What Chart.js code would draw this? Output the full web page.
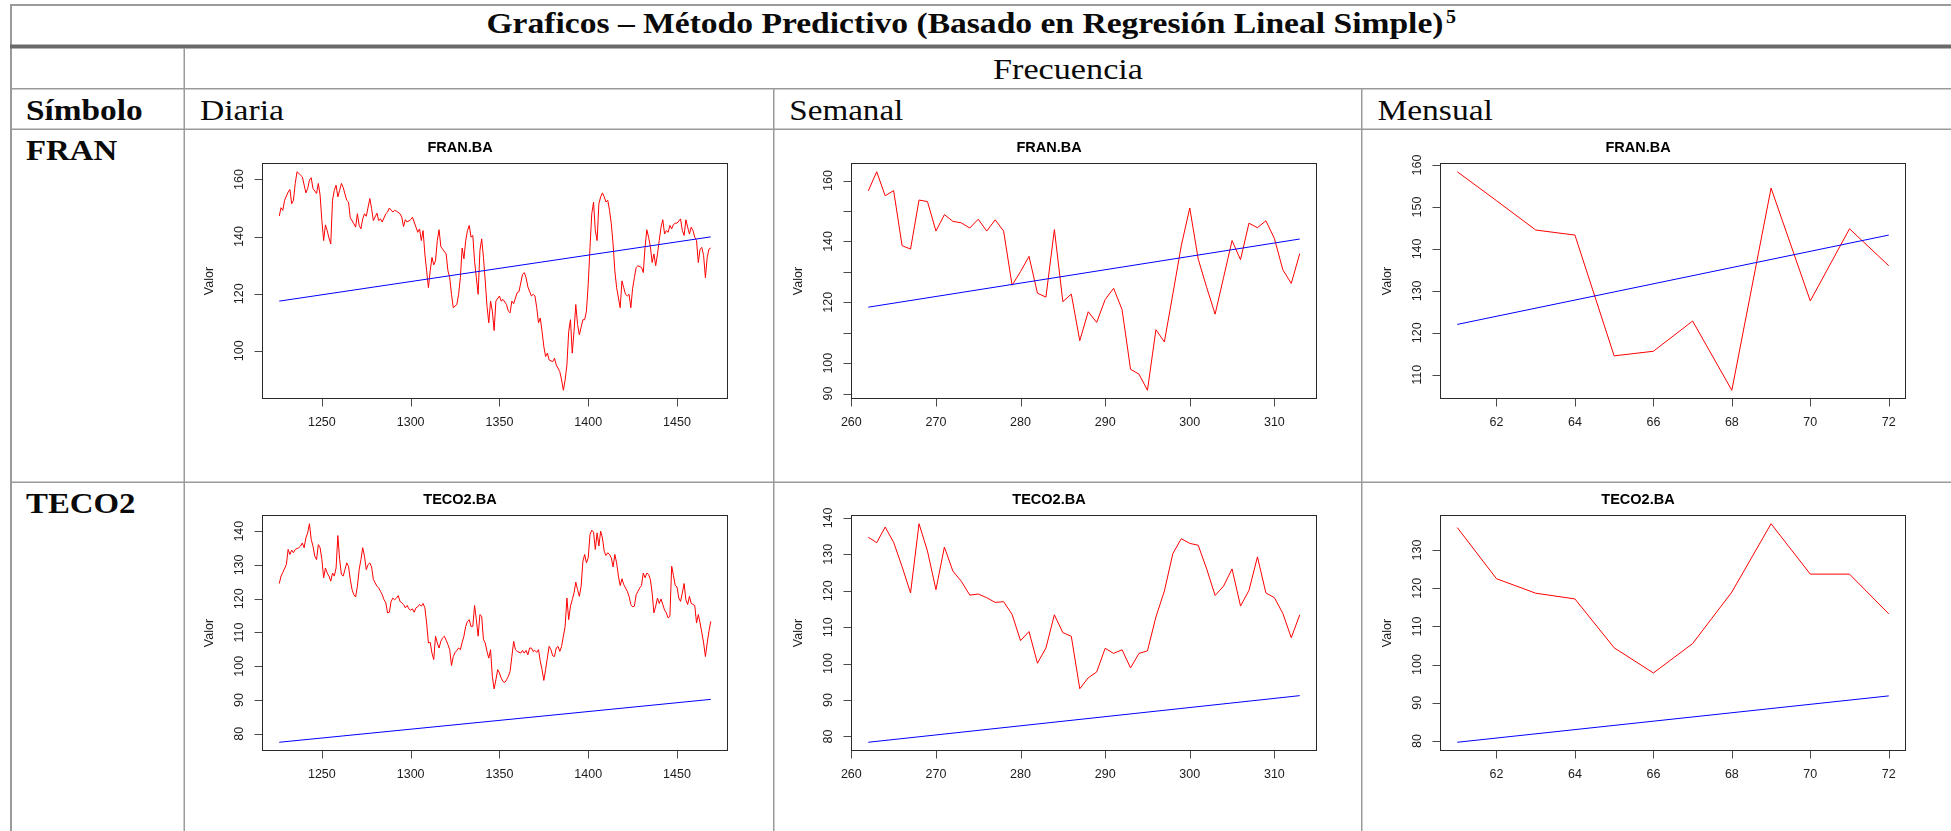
<!DOCTYPE html>
<html lang="es">
<head>
<meta charset="utf-8">
<title>Graficos – Método Predictivo</title>
<script src="https://cdn.jsdelivr.net/npm/chart.js@4.4.1/dist/chart.umd.min.js"></script>
<style>
  html, body { margin: 0; padding: 0; background: #ffffff; }
  #hoja { position: relative; width: 1951px; height: 831px; overflow: hidden; background: #ffffff; }
  #tabla { position: absolute; left: 0; top: 0; }
  #tabla text { fill: #0a0a0a; font-family: "Liberation Serif", "Times New Roman", serif; }
  canvas { position: absolute; }
</style>
</head>
<body>
<div id="hoja">
  <svg id="tabla" width="1951" height="831" xmlns="http://www.w3.org/2000/svg">
    <!-- bordes de la tabla -->
    <rect x="10" y="4" width="1941" height="2" fill="#9a9a9a"/>
    <rect x="10" y="4" width="2" height="827" fill="#9a9a9a"/>
    <rect x="10" y="44.5" width="1941" height="4" fill="#6a6a6a"/>
    <rect x="10" y="88" width="1941" height="1.5" fill="#9a9a9a"/>
    <rect x="10" y="128.5" width="1941" height="1.5" fill="#9a9a9a"/>
    <rect x="10" y="481.5" width="1941" height="1.5" fill="#9a9a9a"/>
    <rect x="183.5" y="48.5" width="1.5" height="783" fill="#9a9a9a"/>
    <rect x="773" y="89" width="1.5" height="742" fill="#9a9a9a"/>
    <rect x="1361" y="89" width="1.5" height="742" fill="#9a9a9a"/>

    <!-- encabezados -->
    <text x="486.5" y="33.3" font-size="30" font-weight="bold" textLength="957" lengthAdjust="spacingAndGlyphs">Graficos – Método Predictivo (Basado en Regresión Lineal Simple)</text>
    <text x="1446" y="23" font-size="18" font-weight="bold" textLength="10" lengthAdjust="spacingAndGlyphs">5</text>
    <text x="993" y="79.3" font-size="28.5" textLength="150" lengthAdjust="spacingAndGlyphs">Frecuencia</text>
    <text x="26" y="119.5" font-size="29" font-weight="bold" textLength="116.7" lengthAdjust="spacingAndGlyphs">Símbolo</text>
    <text x="200" y="119.5" font-size="28.5" textLength="84" lengthAdjust="spacingAndGlyphs">Diaria</text>
    <text x="789.3" y="120" font-size="28.5" textLength="114" lengthAdjust="spacingAndGlyphs">Semanal</text>
    <text x="1377.4" y="120" font-size="28.5" textLength="115.5" lengthAdjust="spacingAndGlyphs">Mensual</text>
    <text x="26" y="160" font-size="29" font-weight="bold" textLength="91.3" lengthAdjust="spacingAndGlyphs">FRAN</text>
    <text x="26" y="513" font-size="29" font-weight="bold" textLength="109.5" lengthAdjust="spacingAndGlyphs">TECO2</text>
  </svg>

  <canvas id="franDiariaCanvas" width="550" height="316" style="left:192px;top:123px;width:550px;height:316px"></canvas>
  <canvas id="franSemanalCanvas" width="550" height="316" style="left:781px;top:123px;width:550px;height:316px"></canvas>
  <canvas id="franMensualCanvas" width="550" height="316" style="left:1370px;top:123px;width:550px;height:316px"></canvas>
  <canvas id="teco2DiariaCanvas" width="550" height="316" style="left:192px;top:475px;width:550px;height:316px"></canvas>
  <canvas id="teco2SemanalCanvas" width="550" height="316" style="left:781px;top:475px;width:550px;height:316px"></canvas>
  <canvas id="teco2MensualCanvas" width="550" height="316" style="left:1370px;top:475px;width:550px;height:316px"></canvas>
</div>

<script>
// ---------- Datos: [período, valor] ----------

// FRAN.BA, frecuencia diaria
const franDiaria = [
  [1226,147.2],[1227,150.1],[1228,149.2],[1229,152.7],[1231,155.6],[1232,156.5],[1233,151.5],[1234,152.7],
  [1235,158.6],[1236,162.7],[1238,161.5],[1239,160.9],[1241,155.3],[1242,156.8],[1243,159.8],[1244,160.6],
  [1245,156.8],[1247,155.1],[1248,158.6],[1249,154.5],[1250,145.6],[1251,138.6],[1252,144.1],[1253,142.1],
  [1254,139.5],[1255,137.4],[1256,152.7],[1257,156.2],[1258,158.0],[1259,153.9],[1260,156.2],[1261,158.6],
  [1262,157.2],[1264,152.7],[1265,152.1],[1266,146.6],[1268,144.5],[1269,143.3],[1270,148.0],[1271,143.9],
  [1272,142.7],[1273,146.2],[1274,148.0],[1275,147.1],[1277,153.3],[1278,149.8],[1279,145.6],[1281,148.2],
  [1282,145.6],[1283,146.2],[1284,145.1],[1286,148.0],[1287,148.6],[1288,150.0],[1290,148.6],[1291,149.2],
  [1292,148.9],[1294,148.0],[1295,146.8],[1296,143.5],[1297,145.9],[1298,145.1],[1300,145.9],[1301,146.8],
  [1303,143.3],[1304,141.5],[1305,142.7],[1306,138.6],[1307,142.1],[1308,133.9],[1309,128.0],[1310,122.1],
  [1311,128.0],[1312,132.7],[1313,130.1],[1314,131.5],[1315,138.6],[1316,142.4],[1317,136.5],[1318,135.6],
  [1320,133.9],[1321,128.0],[1322,125.6],[1323,119.8],[1324,115.1],[1326,116.2],[1327,119.8],[1328,125.6],
  [1329,136.0],[1330,132.2],[1331,138.6],[1332,142.1],[1333,143.9],[1334,139.8],[1335,140.4],[1336,131.3],
  [1337,125.6],[1338,119.8],[1339,135.1],[1340,139.2],[1341,132.7],[1342,124.5],[1343,115.6],[1344,109.8],
  [1345,117.4],[1346,113.9],[1347,107.1],[1348,117.4],[1350,119.2],[1351,117.4],[1352,118.0],[1354,116.2],
  [1355,113.9],[1356,113.3],[1357,117.4],[1358,116.5],[1360,120.4],[1361,120.7],[1363,126.8],[1364,127.4],
  [1365,125.6],[1366,122.4],[1368,119.2],[1369,119.8],[1370,119.2],[1371,115.1],[1372,109.8],[1373,111.5],
  [1374,106.8],[1375,101.5],[1376,98.0],[1377,99.2],[1378,96.8],[1380,96.2],[1381,97.4],[1382,95.1],
  [1384,92.7],[1385,89.8],[1386,86.2],[1387,89.8],[1388,95.1],[1389,106.8],[1390,110.9],[1391,99.2],
  [1392,106.8],[1393,116.2],[1394,109.2],[1395,105.6],[1397,110.9],[1398,110.9],[1399,113.9],[1400,123.3],
  [1401,136.2],[1402,148.0],[1403,152.1],[1404,142.1],[1405,138.6],[1406,151.5],[1407,153.9],[1408,155.3],
  [1409,153.9],[1410,152.1],[1411,152.7],[1412,149.2],[1413,144.5],[1414,137.4],[1415,128.0],[1416,122.1],
  [1418,115.1],[1419,124.5],[1420,122.1],[1421,119.8],[1422,119.2],[1423,119.8],[1424,115.1],[1425,121.9],
  [1426,125.6],[1427,129.2],[1428,129.8],[1430,129.2],[1431,127.4],[1432,136.2],[1433,142.4],[1434,139.8],
  [1435,136.5],[1436,130.9],[1437,133.9],[1438,129.8],[1439,133.9],[1440,138.6],[1441,143.3],[1442,145.9],
  [1443,140.9],[1444,142.1],[1445,141.5],[1446,143.9],[1447,142.7],[1448,144.2],[1449,144.7],[1450,144.7],
  [1452,146.2],[1453,142.1],[1454,140.4],[1455,145.9],[1456,143.3],[1457,140.9],[1458,143.3],[1459,142.1],
  [1460,139.8],[1461,138.6],[1462,130.9],[1463,135.6],[1464,136.2],[1465,133.3],[1466,125.6],[1467,132.7],
  [1468,135.6],[1469,136.0]
];
const franDiariaTendencia = [[1226,117.4],[1469,139.9]];

// FRAN.BA, frecuencia semanal
const franSemanal = [
  [262,156.6],[263,162.9],[264,155.0],[265,156.7],[266,138.6],[267,137.5],[268,153.6],[269,153.1],
  [270,143.4],[271,148.8],[272,146.6],[273,146.1],[274,144.4],[275,147.3],[276,143.4],[277,147.1],
  [278,143.4],[279,125.6],[280,130.1],[281,135.1],[282,123.0],[283,121.7],[284,143.9],[285,120.2],
  [286,122.7],[287,107.4],[288,116.9],[289,113.4],[290,120.9],[291,124.6],[292,117.6],[293,98.0],
  [294,96.4],[295,91.1],[296,111.0],[297,107.0],[298,122.7],[299,138.6],[300,151.0],[301,134.2],
  [302,124.9],[303,116.1],[304,128.2],[305,140.3],[306,134.0],[307,146.0],[308,144.5],[309,146.8],
  [310,141.0],[311,130.7],[312,126.2],[313,136.0]
];
const franSemanalTendencia = [[262,118.4],[313,140.8]];

// FRAN.BA, frecuencia mensual
const franMensual = [
  [61,158.4],[62,151.5],[63,144.5],[64,143.3],[65,114.5],[66,115.6],
  [67,122.8],[68,106.3],[69,154.5],[70,127.6],[71,144.8],[72,136.0]
];
const franMensualTendencia = [[61,122.0],[72,143.3]];

// TECO2.BA, frecuencia diaria
const teco2Diaria = [
  [1226,124.5],[1227,126.7],[1228,127.8],[1230,130.1],[1231,134.6],[1232,133.1],[1233,134.4],[1234,133.6],
  [1235,134.6],[1237,135.1],[1238,135.6],[1239,136.5],[1240,135.1],[1241,138.0],[1242,139.5],[1243,142.2],
  [1244,137.5],[1245,135.6],[1246,132.6],[1247,131.6],[1248,136.0],[1249,135.1],[1250,131.6],[1251,126.2],
  [1252,129.1],[1253,127.6],[1254,126.7],[1255,125.2],[1256,127.6],[1257,126.7],[1258,129.1],[1259,138.7],
  [1260,131.6],[1261,127.2],[1262,126.7],[1263,128.6],[1264,130.6],[1265,129.6],[1266,125.7],[1267,122.7],
  [1268,121.2],[1269,120.5],[1270,123.7],[1271,128.6],[1272,131.6],[1273,135.1],[1274,132.6],[1275,128.6],
  [1276,130.1],[1277,130.6],[1278,129.4],[1279,125.7],[1280,124.7],[1281,123.7],[1282,123.2],[1283,122.2],
  [1284,121.2],[1285,119.7],[1286,118.8],[1287,115.8],[1288,116.0],[1289,119.2],[1290,120.2],[1291,119.7],
  [1292,120.2],[1293,120.9],[1294,119.2],[1295,118.8],[1296,118.3],[1297,117.3],[1298,118.0],[1299,117.0],
  [1300,116.6],[1301,117.0],[1302,116.0],[1303,117.3],[1304,117.6],[1305,118.3],[1306,117.8],[1307,118.6],
  [1308,117.3],[1309,112.8],[1310,106.9],[1311,107.1],[1312,103.9],[1313,102.0],[1314,108.9],[1315,106.9],
  [1316,105.4],[1317,107.4],[1318,108.4],[1319,108.9],[1320,107.7],[1321,106.4],[1322,104.9],[1323,100.2],
  [1324,102.9],[1325,104.0],[1326,104.7],[1327,105.4],[1328,104.9],[1329,107.1],[1330,108.9],[1331,111.8],
  [1332,113.3],[1333,113.8],[1334,111.8],[1335,111.8],[1336,118.0],[1337,113.8],[1338,108.9],[1339,115.3],
  [1340,114.8],[1341,107.9],[1342,106.9],[1343,104.4],[1344,102.4],[1345,104.9],[1346,97.0],[1347,93.3],
  [1348,96.0],[1349,99.0],[1350,98.0],[1351,96.5],[1352,95.5],[1353,95.2],[1354,96.0],[1355,97.0],
  [1356,98.5],[1357,102.9],[1358,107.4],[1359,104.9],[1360,104.4],[1362,103.9],[1363,104.7],[1364,103.9],
  [1365,104.7],[1366,103.4],[1367,105.4],[1368,105.4],[1369,104.4],[1370,104.7],[1371,104.1],[1372,104.9],
  [1373,101.5],[1374,99.0],[1375,95.8],[1376,99.0],[1377,102.5],[1378,105.9],[1379,104.9],[1380,103.1],
  [1381,102.9],[1382,105.4],[1383,105.9],[1384,104.4],[1385,105.9],[1386,108.9],[1387,111.8],[1388,120.2],
  [1389,113.8],[1390,117.8],[1391,119.7],[1392,121.7],[1393,124.9],[1394,122.7],[1395,120.7],[1396,123.7],
  [1397,131.1],[1398,133.1],[1399,130.6],[1400,132.1],[1401,139.0],[1402,140.3],[1403,139.7],[1404,134.6],
  [1405,139.5],[1406,135.6],[1407,140.0],[1408,138.0],[1409,134.1],[1410,132.8],[1411,133.6],[1412,133.1],
  [1413,132.1],[1414,129.4],[1415,133.1],[1416,130.6],[1417,126.7],[1418,123.9],[1419,125.9],[1420,124.2],
  [1421,123.2],[1422,122.2],[1423,120.7],[1424,118.3],[1425,117.6],[1426,117.8],[1427,121.2],[1428,122.2],
  [1429,123.2],[1430,123.9],[1431,127.6],[1432,126.2],[1433,127.6],[1434,127.2],[1435,125.7],[1436,121.7],
  [1437,115.8],[1438,117.8],[1439,120.2],[1440,118.6],[1441,119.9],[1442,118.3],[1443,116.6],[1444,115.8],
  [1445,114.3],[1446,114.8],[1447,129.6],[1448,126.9],[1449,123.9],[1450,123.5],[1451,120.2],[1452,119.2],
  [1453,121.7],[1454,124.5],[1455,119.7],[1456,118.3],[1457,120.7],[1458,118.6],[1459,118.3],[1460,118.0],
  [1461,112.8],[1462,115.3],[1463,112.8],[1464,109.9],[1465,106.9],[1466,102.9],[1467,106.9],[1468,110.4],
  [1469,113.3]
];
const teco2DiariaTendencia = [[1226,77.5],[1469,90.2]];

// TECO2.BA, frecuencia semanal
const teco2Semanal = [
  [262,134.7],[263,133.2],[264,137.5],[265,133.3],[266,126.6],[267,119.4],[268,138.4],[269,130.9],
  [270,120.3],[271,132.0],[272,125.4],[273,122.6],[274,118.8],[275,119.1],[276,118.1],[277,116.8],
  [278,117.0],[279,113.5],[280,106.3],[281,108.8],[282,100.1],[283,104.3],[284,113.4],[285,108.5],
  [286,107.5],[287,93.1],[288,96.1],[289,97.7],[290,104.2],[291,102.8],[292,103.8],[293,98.8],
  [294,102.8],[295,103.5],[296,112.8],[297,119.9],[298,130.2],[299,134.3],[300,133.0],[301,132.5],
  [302,126.0],[303,118.7],[304,121.3],[305,126.0],[306,115.8],[307,120.1],[308,129.3],[309,119.4],
  [310,118.1],[311,113.8],[312,107.1],[313,113.4]
];
const teco2SemanalTendencia = [[262,78.4],[313,91.2]];

// TECO2.BA, frecuencia mensual
const teco2Mensual = [
  [61,135.9],[62,122.5],[63,118.7],[64,117.2],[65,104.4],[66,97.8],
  [67,105.5],[68,119.0],[69,136.9],[70,123.7],[71,123.7],[72,113.3]
];
const teco2MensualTendencia = [[61,79.65],[72,91.8]];

// ---------- Marcas de los ejes ----------
const ticksXDiaria = [1250, 1300, 1350, 1400, 1450];
const ticksXSemanal = [260, 270, 280, 290, 300, 310];
const ticksXMensual = [62, 64, 66, 68, 70, 72];

const ticksYFranDiaria = [100, 120, 140, 160];
const ticksYFranSemanal = [90, 100, 110, 120, 130, 140, 150, 160];
const etiquetasYFranSemanal = [90, 100, 120, 140, 160];
const ticksYFranMensual = [110, 120, 130, 140, 150, 160];
const ticksYTeco2Diaria = [80, 90, 100, 110, 120, 130, 140];
const ticksYTeco2Semanal = [80, 90, 100, 110, 120, 130, 140];
const ticksYTeco2Mensual = [80, 90, 100, 110, 120, 130];

const tituloEjeY = 'Valor';

// ---------- Dibujo ----------
const FUENTE = '"Liberation Sans", Arial, Helvetica, sans-serif';
const ANCHO_EJE_Y = 70;
const ALTO_EJE_X = 40;

// Rango con la expansión del 4 % a cada lado (estilo de R)
function rango(valores) {
  const lo = Math.min(...valores), hi = Math.max(...valores);
  const d = (hi - lo) * 0.04;
  return [lo - d, hi + d];
}

// Marco, marcas y rótulos de ejes al modo de los gráficos base de R
const ejesEstiloR = {
  id: 'ejesEstiloR',
  afterDraw(chart, args, opts) {
    const { ctx, chartArea: a } = chart;
    const xs = chart.scales.x, ys = chart.scales.y;
    ctx.save();

    ctx.lineWidth = 1;
    ctx.strokeStyle = '#2a2a2a';
    ctx.strokeRect(a.left + 0.5, a.top + 0.5, a.width - 1, a.height - 1);

    ctx.strokeStyle = '#4a4a4a';
    xs.ticks.forEach(t => {
      const px = Math.round(xs.getPixelForValue(t.value)) + 0.5;
      ctx.beginPath(); ctx.moveTo(px, a.bottom); ctx.lineTo(px, a.bottom + 7.5); ctx.stroke();
    });
    ys.ticks.forEach(t => {
      const py = Math.round(ys.getPixelForValue(t.value)) + 0.5;
      ctx.beginPath(); ctx.moveTo(a.left - 7.5, py); ctx.lineTo(a.left, py); ctx.stroke();
    });

    ctx.fillStyle = '#1c1c1c';
    ctx.font = '12.5px ' + FUENTE;
    ctx.textAlign = 'center';
    ctx.textBaseline = 'middle';
    xs.ticks.forEach(t => {
      ctx.fillText(String(t.value), xs.getPixelForValue(t.value), a.bottom + 23.4);
    });
    const visibles = opts.etiquetasY || ys.ticks.map(t => t.value);
    ys.ticks.forEach(t => {
      if (!visibles.includes(t.value)) return;
      ctx.save();
      ctx.translate(a.left - 22.5, ys.getPixelForValue(t.value));
      ctx.rotate(-Math.PI / 2);
      ctx.fillText(String(t.value), 0, 0);
      ctx.restore();
    });

    ctx.save();
    ctx.translate(a.left - 52.3, (a.top + a.bottom) / 2);
    ctx.rotate(-Math.PI / 2);
    ctx.fillText(opts.tituloY, 0, 0);
    ctx.restore();

    ctx.restore();
  }
};

function crearGrafico(idCanvas, titulo, serie, tendencia, ticksX, ticksY, etiquetasY) {
  const [xMin, xMax] = rango(serie.map(p => p[0]));
  const [yMin, yMax] = rango(serie.map(p => p[1]).concat(tendencia.map(p => p[1])));
  const aPuntos = arr => arr.map(([x, y]) => ({ x, y }));

  return new Chart(document.getElementById(idCanvas), {
    type: 'line',
    data: {
      datasets: [
        { label: 'Tendencia', data: aPuntos(tendencia), borderColor: '#0000ff', borderWidth: 1,
          pointRadius: 0, tension: 0, order: 0 },
        { label: titulo, data: aPuntos(serie), borderColor: '#ff0000', borderWidth: 1,
          pointRadius: 0, tension: 0, order: 1 }
      ]
    },
    options: {
      responsive: false,
      animation: false,
      devicePixelRatio: 1,
      events: [],
      layout: { padding: { left: 0, right: 14, top: 0, bottom: 0 } },
      plugins: {
        legend: { display: false },
        tooltip: { enabled: false },
        title: {
          display: true,
          text: titulo,
          color: '#000000',
          font: { family: FUENTE, size: 14.5, weight: 'bold' },
          padding: { top: 15.9, bottom: 6.7 }
        },
        ejesEstiloR: { etiquetasY: etiquetasY, tituloY: tituloEjeY }
      },
      scales: {
        x: {
          type: 'linear', min: xMin, max: xMax,
          afterBuildTicks: s => { s.ticks = ticksX.map(v => ({ value: v })); },
          afterFit: s => { s.height = ALTO_EJE_X; },
          ticks: { display: false },
          grid: { display: false },
          border: { display: false }
        },
        y: {
          type: 'linear', min: yMin, max: yMax,
          afterBuildTicks: s => { s.ticks = ticksY.map(v => ({ value: v })); },
          afterFit: s => { s.width = ANCHO_EJE_Y; },
          ticks: { display: false },
          grid: { display: false },
          border: { display: false }
        }
      }
    },
    plugins: [ejesEstiloR]
  });
}

crearGrafico('franDiariaCanvas', 'FRAN.BA', franDiaria, franDiariaTendencia, ticksXDiaria, ticksYFranDiaria);
crearGrafico('franSemanalCanvas', 'FRAN.BA', franSemanal, franSemanalTendencia, ticksXSemanal, ticksYFranSemanal, etiquetasYFranSemanal);
crearGrafico('franMensualCanvas', 'FRAN.BA', franMensual, franMensualTendencia, ticksXMensual, ticksYFranMensual);
crearGrafico('teco2DiariaCanvas', 'TECO2.BA', teco2Diaria, teco2DiariaTendencia, ticksXDiaria, ticksYTeco2Diaria);
crearGrafico('teco2SemanalCanvas', 'TECO2.BA', teco2Semanal, teco2SemanalTendencia, ticksXSemanal, ticksYTeco2Semanal);
crearGrafico('teco2MensualCanvas', 'TECO2.BA', teco2Mensual, teco2MensualTendencia, ticksXMensual, ticksYTeco2Mensual);
</script>
</body>
</html>
